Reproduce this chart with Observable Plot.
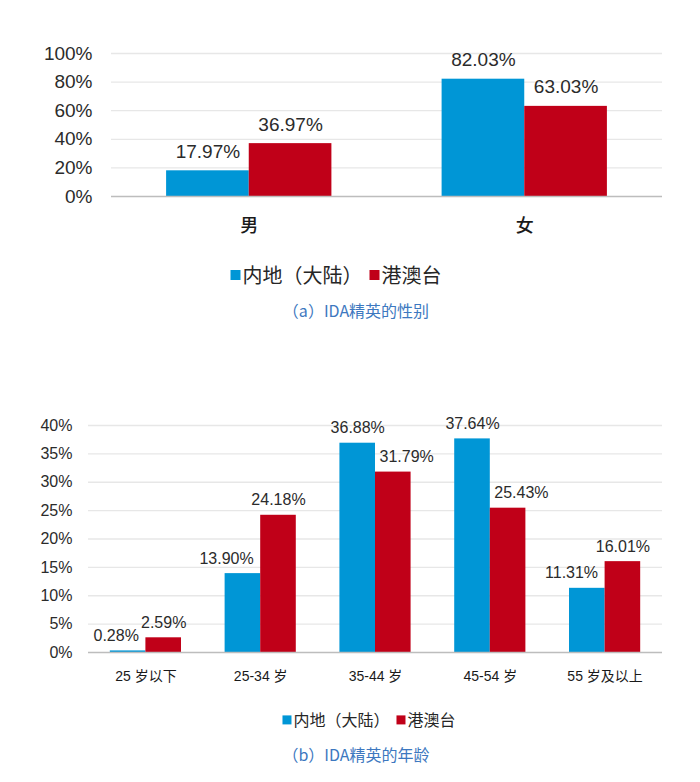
<!DOCTYPE html>
<html><head><meta charset="utf-8">
<script src="https://cdn.jsdelivr.net/npm/d3@7"></script>
<script src="https://cdn.jsdelivr.net/npm/@observablehq/plot@0.6"></script>
<style>
html,body{margin:0;padding:0;background:#fff;}
body{width:700px;height:782px;position:relative;overflow:hidden;font-family:"Liberation Sans","Noto Sans CJK SC",sans-serif;}
.panel{position:absolute;left:0;}
.legend{position:absolute;white-space:nowrap;transform:translate(-50%,-50%);color:#262626;display:flex;align-items:center;font-family:"Noto Sans CJK SC",sans-serif;line-height:1.2;}
.sw{display:inline-block;}
.caption{position:absolute;transform:translate(-50%,-50%);white-space:nowrap;color:#3d78c0;font-family:"Noto Sans CJK SC",sans-serif;line-height:1.2;}
</style></head><body>
<div id="a" class="panel" style="top:0"></div>
<div id="legA" class="legend" style="left:336px;top:275px;font-size:20px"></div>
<div class="caption" style="left:356px;top:311px;font-size:16px">（a）IDA精英的性别</div>
<div id="b" class="panel" style="top:400px"></div>
<div id="legB" class="legend" style="left:369px;top:720px;font-size:16px"></div>
<div class="caption" style="left:356px;top:755px;font-size:16px">（b）IDA精英的年龄</div>
<script>
const seriesNames = ["内地（大陆）", "港澳台"];
const seriesColors = ["#0096D6", "#C00018"];

const genderCategories = ["男", "女"];
const genderMainland = [17.97, 82.03];
const genderHKMT = [36.97, 63.03];
const genderTicks = [0, 20, 40, 60, 80, 100];

const ageCategories = ["25 岁以下", "25-34 岁", "35-44 岁", "45-54 岁", "55 岁及以上"];
const ageMainland = [0.28, 13.90, 36.88, 37.64, 11.31];
const ageHKMT = [2.59, 24.18, 31.79, 25.43, 16.01];
const ageTicks = [0, 5, 10, 15, 20, 25, 30, 35, 40];

const fmt = v => v.toFixed(2) + "%";

function rows(cats, a, b) {
  return cats.flatMap((c, i) => [
    {cat: c, s: 0, v: a[i], other: b[i]},
    {cat: c, s: 1, v: b[i], other: a[i]}
  ]);
}

function chart(cfg) {
  const {cats, a, b, ticks, width, height, ml, mr, mt, mb, pi, po,
         tickFont, catFont, valFont, yPad, xPad, labelGap, avoid, catWeight} = cfg;
  const data = rows(cats, a, b);
  const W = width - ml - mr;
  const step = W / (cats.length - pi + 2 * po);
  const half = step * (1 - pi) / 2;
  const blue = data.filter(d => d.s === 0), red = data.filter(d => d.s === 1);
  const shifted = d => avoid && d.other > d.v;
  const txt = {x: "cat", y: "v", text: d => fmt(d.v), dy: -labelGap, fontSize: valFont, fill: "#2b2b2b"};
  return Plot.plot({
    width, height, marginLeft: ml, marginRight: mr, marginTop: mt, marginBottom: mb,
    x: {type: "band", domain: cats, paddingInner: pi, paddingOuter: po, round: false},
    y: {domain: [0, ticks[ticks.length - 1]]},
    style: {background: "white", color: "#2b2b2b", fontFamily: '"Liberation Sans","Noto Sans CJK SC",sans-serif'},
    marks: [
      Plot.ruleY(ticks.filter(t => t > 0), {stroke: "#e7e7e7", strokeWidth: 1.3}),
      Plot.barY(blue, {x: "cat", y: "v", fill: seriesColors[0], insetRight: half}),
      Plot.barY(red, {x: "cat", y: "v", fill: seriesColors[1], insetLeft: half}),
      Plot.ruleY([0], {stroke: "#bdbdbd", strokeWidth: 1.6}),
      Plot.text(blue.filter(d => !shifted(d)), {...txt, dx: -half / 2}),
      Plot.text(blue.filter(shifted), {...txt, textAnchor: "end", dx: -7}),
      Plot.text(red.filter(d => !shifted(d)), {...txt, dx: half / 2}),
      Plot.text(red.filter(shifted), {...txt, textAnchor: "start", dx: 4}),
      Plot.axisY(ticks, {tickFormat: d => d + "%", tickSize: 0, tickPadding: yPad, fontSize: tickFont, label: null}),
      Plot.axisX({tickSize: 0, tickPadding: xPad, fontSize: catFont, fontWeight: catWeight, fill: "#1a1a1a", label: null})
    ]
  });
}

document.getElementById("a").append(chart({
  cats: genderCategories, a: genderMainland, b: genderHKMT, ticks: genderTicks,
  width: 700, height: 255, ml: 111, mr: 38, mt: 53, mb: 59, pi: 0.4, po: 0.2,
  tickFont: 19, catFont: 18, valFont: 19, yPad: 19, xPad: 23, labelGap: 19, avoid: false, catWeight: "500"
}));
document.getElementById("b").append(chart({
  cats: ageCategories, a: ageMainland, b: ageHKMT, ticks: ageTicks,
  width: 700, height: 300, ml: 88, mr: 38, mt: 25, mb: 48, pi: 0.38, po: 0.19,
  tickFont: 16, catFont: 14, valFont: 16, yPad: 16, xPad: 19, labelGap: 15, avoid: true, catWeight: "normal"
}));

function legend(el, sw) {
  seriesNames.forEach((n, i) => {
    const s = document.createElement("span");
    s.className = "sw";
    s.style.cssText = `width:${sw}px;height:${sw}px;background:${seriesColors[i]};margin-right:2px;margin-left:${i ? 7 : 0}px`;
    const t = document.createElement("span");
    t.textContent = n;
    el.append(s, t);
  });
}
legend(document.getElementById("legA"), 10);
legend(document.getElementById("legB"), 9);
</script>
</body></html>
